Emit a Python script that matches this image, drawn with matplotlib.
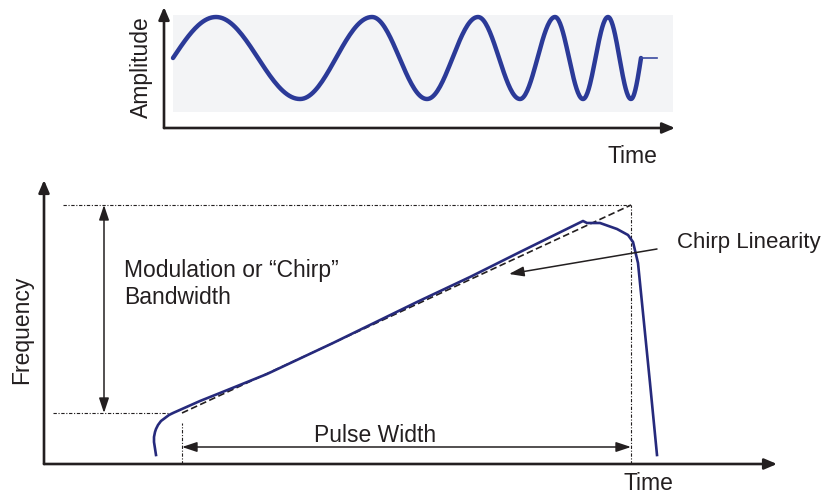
import numpy as np
import matplotlib.pyplot as plt
from matplotlib.patches import Rectangle

plt.rcParams['font.family'] = ['Liberation Sans', 'DejaVu Sans']

W, H = 824, 496
INK = '#231f20'
FS = 16.5

# top panel: extrema of the chirped pulse (time, normalised amplitude)
wave_t = [9, 52, 136, 208, 263, 314, 356, 391, 419, 444, 467, 477]
wave_a = [0, 1, -1, 1, -1, 1, -1, 1, -1, 1, -1, 0]
tail_t = [477, 493]

# bottom panel: measured frequency vs time
freq_t = [112, 110, 110, 111, 112, 114, 117, 121, 125, 129, 156, 176, 223,
          289, 373, 426, 476, 539, 543, 556, 573, 584, 589, 594, 599, 606,
          613]
freq_f = [9, 22, 27, 32, 35, 39, 43, 46, 49, 51, 63, 71, 90,
          121, 162, 187, 212, 243, 241, 241, 235, 229, 222, 201, 151, 81,
          9]

# ideal linear chirp
pulse_start, pulse_end = 138, 587
f_low, f_high = 51, 259


def px_axes(fig, x0, y0, x1, y1):
    # axes placed by pixel box (x0,y0 = origin at lower left, x1,y1 = upper right)
    ax = fig.add_axes([x0 / W, 1 - y0 / H, (x1 - x0) / W, (y0 - y1) / H])
    ax.axis('off')
    return ax


def axis_arrows(ax):
    st = '-|>,head_length=0.75,head_width=0.32'
    kw = dict(arrowstyle=st, lw=1.9, color=INK, shrinkA=0, shrinkB=0,
              mutation_scale=10)
    ax.annotate('', xy=(1, 0), xytext=(0, 0), xycoords='axes fraction',
                arrowprops=kw)
    ax.annotate('', xy=(0, 1), xytext=(0, 0), xycoords='axes fraction',
                arrowprops=kw)


def chirp_wave(t, a, n=40):
    xs, ys = [], []
    for i in range(len(t) - 1):
        s = np.linspace(0, 1, n)
        a0, a1 = a[i], a[i + 1]
        if a0 == 0:
            shape = np.sin(np.pi * s / 2)
        elif a1 == 0:
            shape = 1 - np.cos(np.pi * s / 2)
        else:
            shape = (1 - np.cos(np.pi * s)) / 2
        xs.append(t[i] + (t[i + 1] - t[i]) * s)
        ys.append(a0 + (a1 - a0) * shape)
    return np.concatenate(xs), np.concatenate(ys)


fig = plt.figure(figsize=(W / 100, H / 100), dpi=100)

# ---------------- top: amplitude vs time ----------------
ax1 = px_axes(fig, 164, 128, 675, 7)
ax1.set_xlim(0, 511)
ax1.set_ylim(-1.707, 1.244)
ax1.add_patch(Rectangle((9, -1.32), 500, 2.37, color='#f3f4f6', lw=0))
wx, wy = chirp_wave(wave_t, wave_a)
ax1.plot(wx, wy, color='#2b3a98', lw=3.2, solid_capstyle='round')
ax1.plot(tail_t, [0, 0], color='#3a4aa0', lw=1.2)
axis_arrows(ax1)
ax1.text(-23, -0.22, 'Amplitude', rotation=90, fontsize=FS, color=INK,
         ha='center', va='center')
ax1.text(468, -2.41, 'Time', fontsize=FS, color=INK, ha='center',
         va='center', clip_on=False)

# ---------------- bottom: frequency vs time ----------------
ax2 = px_axes(fig, 44, 464, 777, 180)
ax2.set_xlim(0, 733)
ax2.set_ylim(0, 284)

dd = (0, (3, 1.5, 1, 1.5))
ax2.plot([19, pulse_end], [f_high, f_high], color=INK, lw=0.8, ls=dd)
ax2.plot([9, 129], [f_low, f_low], color=INK, lw=0.8, ls=dd)
ax2.plot([pulse_end, pulse_end], [0, f_high], color=INK, lw=0.8, ls=dd)
ax2.plot([pulse_start, pulse_start], [0, 41], color=INK, lw=0.8, ls=dd)
ax2.plot([pulse_start, pulse_end], [f_low, f_high], color=INK, lw=1.2,
         ls=(0, (4, 2)))
ax2.plot(freq_t, freq_f, color='#262a7c', lw=1.9)
axis_arrows(ax2)

dbl = dict(arrowstyle='<|-|>,head_length=0.9,head_width=0.3', lw=1.1,
           color=INK, shrinkA=0, shrinkB=0, mutation_scale=10)
ax2.annotate('', xy=(60, f_high), xytext=(60, f_low), arrowprops=dbl)
ax2.annotate('', xy=(pulse_end, 17), xytext=(pulse_start, 17), arrowprops=dbl)
sgl = dict(dbl, arrowstyle='-|>,head_length=0.9,head_width=0.3')
ax2.annotate('', xy=(465, 190), xytext=(613, 215), arrowprops=sgl)

ax2.text(80, 194, 'Modulation or \u201cChirp\u201d', fontsize=FS, color=INK,
         ha='left', va='center')
ax2.text(80, 167, 'Bandwidth', fontsize=FS, color=INK, ha='left',
         va='center')
ax2.text(331, 29, 'Pulse Width', fontsize=FS, color=INK, ha='center',
         va='center')
ax2.text(633, 221, 'Chirp Linearity', fontsize=16, color=INK, ha='left',
         va='center', clip_on=False)
ax2.text(604, -19, 'Time', fontsize=FS, color=INK, ha='center',
         va='center', clip_on=False)
ax2.text(-22, 134, 'Frequency', rotation=90, fontsize=FS, color=INK,
         ha='center', va='center', clip_on=False)

fig.savefig('out.png', dpi=100)
